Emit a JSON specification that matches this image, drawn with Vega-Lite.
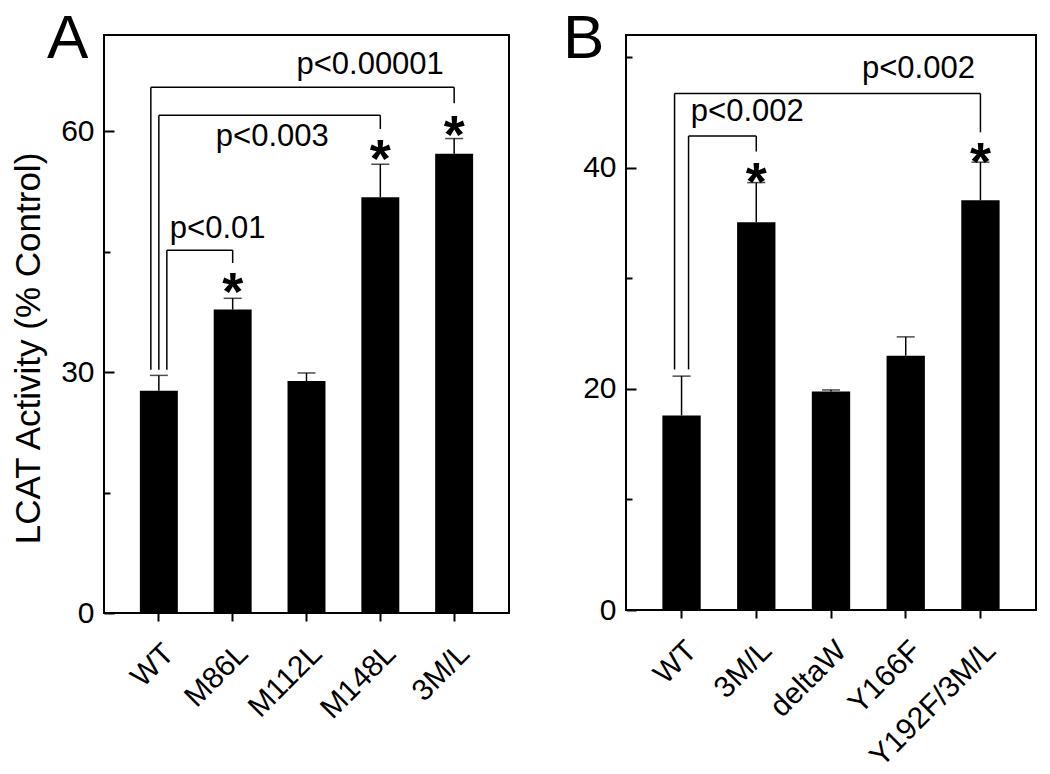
{
  "$schema": "https://vega.github.io/schema/vega-lite/v6.json",
  "padding": {"left": 10, "top": 7, "right": 5, "bottom": 5},
  "background": "white",
  "config": {
    "font": "Liberation Sans",
    "view": {"stroke": "black", "strokeWidth": 2},
    "axis": {
      "labelFont": "Liberation Sans", "labelFontSize": 30, "labelColor": "black",
      "titleFont": "Liberation Sans", "titleFontSize": 35, "titleFontWeight": "normal", "titleColor": "black",
      "domain": false, "tickColor": "black", "tickWidth": 2, "grid": false
    },
    "title": {"font": "Liberation Sans", "fontSize": 62, "fontWeight": "normal", "color": "black"}
  },
  "datasets": {
    "barsA": [
      {"g": "WT", "v": 27.7, "e": 29.6},
      {"g": "M86L", "v": 37.8, "e": 39.2},
      {"g": "M112L", "v": 28.9, "e": 29.9},
      {"g": "M148L", "v": 51.8, "e": 55.9},
      {"g": "3M/L", "v": 57.2, "e": 59.1}
    ],
    "brA": [
      {"id": 1, "from": "WT", "to": "M86L", "start": 30.3, "level": 45.2, "tip": 43.6, "star": 41.5, "label": "p<0.01", "ly": 46.75},
      {"id": 2, "from": "WT", "to": "M148L", "start": 30.3, "level": 62.0, "tip": 60.3, "star": 58.0, "label": "p<0.003", "ly": 58.2},
      {"id": 3, "from": "WT", "to": "3M/L", "start": 30.3, "level": 65.5, "tip": 63.5, "star": 61.1, "label": "p<0.00001", "ly": 67.1}
    ],
    "barsB": [
      {"g": "WT", "v": 17.6, "e": 21.15},
      {"g": "3M/L", "v": 35.06, "e": 38.65},
      {"g": "deltaW", "v": 19.76, "e": 19.9},
      {"g": "Y166F", "v": 23.0, "e": 24.7},
      {"g": "Y192F/3M/L", "v": 37.05, "e": 40.5}
    ],
    "brB": [
      {"id": 1, "from": "WT", "to": "3M/L", "start": 21.76, "level": 42.86, "tip": 41.46, "star": 39.8, "label": "p<0.002", "ly": 44.2},
      {"id": 2, "from": "WT", "to": "Y192F/3M/L", "start": 21.76, "level": 46.7, "tip": 43.2, "star": 41.6, "label": "p<0.002", "ly": 48.1}
    ]
  },
  "spacing": 52,
  "hconcat": [
    {
      "width": 405,
      "height": 578,
      "title": {"text": "A", "anchor": "start", "frame": "group", "dx": -57, "offset": -36},
      "layer": [
        {
          "data": {"name": "barsA"},
          "mark": {"type": "bar", "color": "black"},
          "encoding": {
            "x": {"field": "g", "type": "nominal", "sort": null,
              "scale": {"domain": ["WT", "M86L", "M112L", "M148L", "3M/L"], "paddingInner": 0.486, "paddingOuter": 0.486},
              "axis": {"title": null, "labelAngle": -45, "labelAlign": "right", "labelBaseline": "top", "tickSize": 8, "labelPadding": 17}},
            "y": {"field": "v", "type": "quantitative",
              "scale": {"domain": [0, 72], "nice": false},
              "axis": {"title": "LCAT Activity (% Control)", "values": [0, 15, 30, 45, 60],
                "labelExpr": "datum.value % 30 === 0 ? datum.label : ''",
                "tickSize": {"condition": {"test": "datum.value % 30 === 0", "value": -10}, "value": -6},
                "labelPadding": 20, "titlePadding": 14, "titleY": 313}}
          }
        },
        {
          "data": {"name": "barsA"},
          "mark": {"type": "rule", "color": "black", "strokeWidth": 1.5},
          "encoding": {
            "x": {"field": "g", "type": "nominal", "sort": null, "scale": {"domain": ["WT", "M86L", "M112L", "M148L", "3M/L"]}},
            "y": {"field": "v", "type": "quantitative"},
            "y2": {"field": "e"}
          }
        },
        {
          "data": {"name": "barsA"},
          "mark": {"type": "tick", "color": "black", "thickness": 1.5, "size": 18, "orient": "horizontal"},
          "encoding": {
            "x": {"field": "g", "type": "nominal", "sort": null, "scale": {"domain": ["WT", "M86L", "M112L", "M148L", "3M/L"]}},
            "y": {"field": "e", "type": "quantitative"}
          }
        },
        {
          "data": {"name": "brA"},
          "transform": [{"filter": "datum.id === 1"}],
          "layer": [
            {"mark": {"type": "rule", "color": "black", "strokeWidth": 1.5, "xOffset": 8},
             "encoding": {"x": {"field": "from", "type": "nominal", "scale": {"domain": ["WT", "M86L", "M112L", "M148L", "3M/L"]}},
               "y": {"field": "start", "type": "quantitative"}, "y2": {"field": "level"}}},
            {"mark": {"type": "rule", "color": "black", "strokeWidth": 1.5, "xOffset": 8},
             "encoding": {"x": {"field": "from", "type": "nominal", "scale": {"domain": ["WT", "M86L", "M112L", "M148L", "3M/L"]}},
               "x2": {"field": "to"},
               "y": {"field": "level", "type": "quantitative"}}},
            {"mark": {"type": "text", "fontSize": 31, "color": "black", "align": "center", "baseline": "alphabetic", "dx": -15},
             "encoding": {"x": {"field": "to", "type": "nominal", "scale": {"domain": ["WT", "M86L", "M112L", "M148L", "3M/L"]}},
               "y": {"field": "ly", "type": "quantitative"}, "text": {"field": "label"}}}
          ]
        },
        {
          "data": {"name": "brA"},
          "transform": [{"filter": "datum.id === 2"}],
          "layer": [
            {"mark": {"type": "rule", "color": "black", "strokeWidth": 1.5, "xOffset": 0},
             "encoding": {"x": {"field": "from", "type": "nominal", "scale": {"domain": ["WT", "M86L", "M112L", "M148L", "3M/L"]}},
               "y": {"field": "start", "type": "quantitative"}, "y2": {"field": "level"}}},
            {"mark": {"type": "rule", "color": "black", "strokeWidth": 1.5, "xOffset": 0},
             "encoding": {"x": {"field": "from", "type": "nominal", "scale": {"domain": ["WT", "M86L", "M112L", "M148L", "3M/L"]}},
               "x2": {"field": "to"},
               "y": {"field": "level", "type": "quantitative"}}},
            {"mark": {"type": "text", "fontSize": 31, "color": "black", "align": "center", "baseline": "alphabetic", "dx": -108},
             "encoding": {"x": {"field": "to", "type": "nominal", "scale": {"domain": ["WT", "M86L", "M112L", "M148L", "3M/L"]}},
               "y": {"field": "ly", "type": "quantitative"}, "text": {"field": "label"}}}
          ]
        },
        {
          "data": {"name": "brA"},
          "transform": [{"filter": "datum.id === 3"}],
          "layer": [
            {"mark": {"type": "rule", "color": "black", "strokeWidth": 1.5, "xOffset": -8},
             "encoding": {"x": {"field": "from", "type": "nominal", "scale": {"domain": ["WT", "M86L", "M112L", "M148L", "3M/L"]}},
               "y": {"field": "start", "type": "quantitative"}, "y2": {"field": "level"}}},
            {"mark": {"type": "rule", "color": "black", "strokeWidth": 1.5, "xOffset": -8},
             "encoding": {"x": {"field": "from", "type": "nominal", "scale": {"domain": ["WT", "M86L", "M112L", "M148L", "3M/L"]}},
               "x2": {"field": "to"},
               "y": {"field": "level", "type": "quantitative"}}},
            {"mark": {"type": "text", "fontSize": 31, "color": "black", "align": "center", "baseline": "alphabetic", "dx": -84},
             "encoding": {"x": {"field": "to", "type": "nominal", "scale": {"domain": ["WT", "M86L", "M112L", "M148L", "3M/L"]}},
               "y": {"field": "ly", "type": "quantitative"}, "text": {"field": "label"}}}
          ]
        },
        {
          "data": {"name": "brA"},
          "mark": {"type": "rule", "color": "black", "strokeWidth": 1.5},
          "encoding": {"x": {"field": "to", "type": "nominal", "scale": {"domain": ["WT", "M86L", "M112L", "M148L", "3M/L"]}},
            "y": {"field": "level", "type": "quantitative"}, "y2": {"field": "tip"}}
        },
        {
          "data": {"name": "brA"},
          "mark": {"type": "text", "fontSize": 54, "fontWeight": "bold", "color": "black", "align": "center", "baseline": "alphabetic", "dy": 30},
          "encoding": {"x": {"field": "to", "type": "nominal", "scale": {"domain": ["WT", "M86L", "M112L", "M148L", "3M/L"]}},
            "y": {"field": "star", "type": "quantitative"}, "text": {"value": "*"}}
        }
      ]
    },
    {
      "width": 410,
      "height": 575,
      "title": {"text": "B", "anchor": "start", "frame": "group", "dx": -63, "offset": -36},
      "layer": [
        {
          "data": {"name": "barsB"},
          "mark": {"type": "bar", "color": "black"},
          "encoding": {
            "x": {"field": "g", "type": "nominal", "sort": null,
              "scale": {"domain": ["WT", "3M/L", "deltaW", "Y166F", "Y192F/3M/L"], "paddingInner": 0.487, "paddingOuter": 0.487},
              "axis": {"title": null, "labelAngle": -45, "labelAlign": "right", "labelBaseline": "top", "tickSize": 8, "labelPadding": 17}},
            "y": {"field": "v", "type": "quantitative",
              "scale": {"domain": [0, 52], "nice": false},
              "axis": {"title": null, "values": [0, 10, 20, 30, 40, 50],
                "labelExpr": "datum.value % 20 === 0 ? datum.label : ''",
                "tickSize": {"condition": {"test": "datum.value % 20 === 0", "value": -10}, "value": -6},
                "labelPadding": 20}}
          }
        },
        {
          "data": {"name": "barsB"},
          "mark": {"type": "rule", "color": "black", "strokeWidth": 1.5},
          "encoding": {
            "x": {"field": "g", "type": "nominal", "sort": null, "scale": {"domain": ["WT", "3M/L", "deltaW", "Y166F", "Y192F/3M/L"]}},
            "y": {"field": "v", "type": "quantitative"},
            "y2": {"field": "e"}
          }
        },
        {
          "data": {"name": "barsB"},
          "mark": {"type": "tick", "color": "black", "thickness": 1.5, "size": 18, "orient": "horizontal"},
          "encoding": {
            "x": {"field": "g", "type": "nominal", "sort": null, "scale": {"domain": ["WT", "3M/L", "deltaW", "Y166F", "Y192F/3M/L"]}},
            "y": {"field": "e", "type": "quantitative"}
          }
        },
        {
          "data": {"name": "brB"},
          "transform": [{"filter": "datum.id === 1"}],
          "layer": [
            {"mark": {"type": "rule", "color": "black", "strokeWidth": 1.5, "xOffset": 7},
             "encoding": {"x": {"field": "from", "type": "nominal", "scale": {"domain": ["WT", "3M/L", "deltaW", "Y166F", "Y192F/3M/L"]}},
               "y": {"field": "start", "type": "quantitative"}, "y2": {"field": "level"}}},
            {"mark": {"type": "rule", "color": "black", "strokeWidth": 1.5, "xOffset": 7},
             "encoding": {"x": {"field": "from", "type": "nominal", "scale": {"domain": ["WT", "3M/L", "deltaW", "Y166F", "Y192F/3M/L"]}},
               "x2": {"field": "to"},
               "y": {"field": "level", "type": "quantitative"}}},
            {"mark": {"type": "text", "fontSize": 31, "color": "black", "align": "center", "baseline": "alphabetic", "dx": -9},
             "encoding": {"x": {"field": "to", "type": "nominal", "scale": {"domain": ["WT", "3M/L", "deltaW", "Y166F", "Y192F/3M/L"]}},
               "y": {"field": "ly", "type": "quantitative"}, "text": {"field": "label"}}}
          ]
        },
        {
          "data": {"name": "brB"},
          "transform": [{"filter": "datum.id === 2"}],
          "layer": [
            {"mark": {"type": "rule", "color": "black", "strokeWidth": 1.5, "xOffset": -7},
             "encoding": {"x": {"field": "from", "type": "nominal", "scale": {"domain": ["WT", "3M/L", "deltaW", "Y166F", "Y192F/3M/L"]}},
               "y": {"field": "start", "type": "quantitative"}, "y2": {"field": "level"}}},
            {"mark": {"type": "rule", "color": "black", "strokeWidth": 1.5, "xOffset": -7},
             "encoding": {"x": {"field": "from", "type": "nominal", "scale": {"domain": ["WT", "3M/L", "deltaW", "Y166F", "Y192F/3M/L"]}},
               "x2": {"field": "to"},
               "y": {"field": "level", "type": "quantitative"}}},
            {"mark": {"type": "text", "fontSize": 31, "color": "black", "align": "center", "baseline": "alphabetic", "dx": -62},
             "encoding": {"x": {"field": "to", "type": "nominal", "scale": {"domain": ["WT", "3M/L", "deltaW", "Y166F", "Y192F/3M/L"]}},
               "y": {"field": "ly", "type": "quantitative"}, "text": {"field": "label"}}}
          ]
        },
        {
          "data": {"name": "brB"},
          "mark": {"type": "rule", "color": "black", "strokeWidth": 1.5},
          "encoding": {"x": {"field": "to", "type": "nominal", "scale": {"domain": ["WT", "3M/L", "deltaW", "Y166F", "Y192F/3M/L"]}},
            "y": {"field": "level", "type": "quantitative"}, "y2": {"field": "tip"}}
        },
        {
          "data": {"name": "brB"},
          "mark": {"type": "text", "fontSize": 54, "fontWeight": "bold", "color": "black", "align": "center", "baseline": "alphabetic", "dy": 30},
          "encoding": {"x": {"field": "to", "type": "nominal", "scale": {"domain": ["WT", "3M/L", "deltaW", "Y166F", "Y192F/3M/L"]}},
            "y": {"field": "star", "type": "quantitative"}, "text": {"value": "*"}}
        }
      ]
    }
  ]
}
